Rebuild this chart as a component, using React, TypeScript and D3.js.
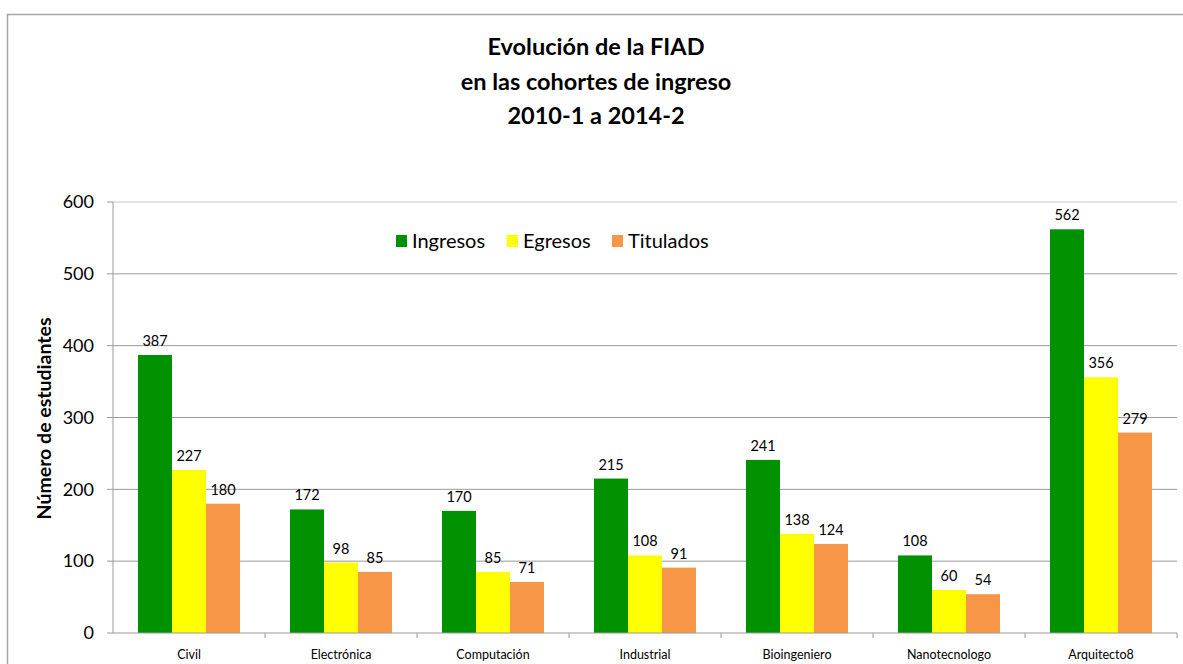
import React from 'react';
import * as d3 from 'd3';

const width = 1183;
const height = 664;

const categories = ['Civil', 'Electrónica', 'Computación', 'Industrial', 'Bioingeniero', 'Nanotecnologo', 'Arquitecto8'];
const seriesNames = ['Ingresos', 'Egresos', 'Titulados'];
const ingresos = [387, 172, 170, 215, 241, 108, 562];
const egresos = [227, 98, 85, 108, 138, 60, 356];
const titulados = [180, 85, 71, 91, 124, 54, 279];
const yTicks = [0, 100, 200, 300, 400, 500, 600];
const titleLines = ['Evolución de la FIAD', 'en las cohortes de ingreso', '2010-1 a 2014-2'];

const seriesValues = [ingresos, egresos, titulados];
const colors = ['#009100', '#ffff00', '#f79646'];

const plotLeft = 113;
const plotRight = 1177;
const plotTop = 202;
const plotBottom = 633;

const font = 'Lato, "Open Sans", sans-serif';

const x0 = d3.scaleBand().domain(categories).range([plotLeft, plotRight]).padding(0);
const x1 = d3.scaleBand().domain(seriesNames).range([0, x0.bandwidth()]).paddingInner(0).paddingOuter(0.735);
const y = d3.scaleLinear().domain([0, 600]).range([plotBottom, plotTop]);

const App = () => {
  return (
    <svg width={width} height={height} style={{ position: 'absolute', left: 0, top: 0 }}>
      <rect x={0} y={0} width={width} height={height} fill="white" />
      <rect x={7.5} y={14.5} width={width + 20} height={height + 20} fill="none" stroke="#a6a6a6" strokeWidth={1.5} />

      {titleLines.map((t, i) => (
        <text key={t} x={596} y={55 + i * 34.5} textAnchor="middle" fontFamily={font} fontWeight="bold" fontSize={23.5} fill="#000">
          {t}
        </text>
      ))}

      {/* gridlines and y ticks */}
      {yTicks.map(t => (
        <g key={t}>
          {t > 0 && <line x1={plotLeft} x2={plotRight} y1={y(t)} y2={y(t)} stroke={t === 600 ? '#c8c8c8' : '#9a9a9a'} strokeWidth={1} />}
          <line x1={plotLeft - 6} x2={plotLeft} y1={y(t)} y2={y(t)} stroke="#9a9a9a" />
          <text x={94} y={y(t)} dy="0.35em" textAnchor="end" fontFamily={font} fontSize={18} fill="#000">{t}</text>
        </g>
      ))}

      <text transform={`translate(51,${(plotTop + plotBottom) / 2 + 1}) rotate(-90)`} textAnchor="middle" fontFamily={font} fontWeight="bold" fontSize={19.5} fill="#000">
        Número de estudiantes
      </text>

      {/* bars */}
      {categories.map((c, ci) => (
        <g key={c} transform={`translate(${x0(c)},0)`}>
          {seriesNames.map((s, si) => {
            const v = seriesValues[si][ci];
            const bx = x1(s)!;
            return (
              <g key={s}>
                <rect x={bx} y={y(v)} width={x1.bandwidth()} height={plotBottom - y(v)} fill={colors[si]} />
                <text x={bx + x1.bandwidth() / 2} y={y(v) - 9} textAnchor="middle" fontFamily={font} fontSize={14.5} fill="#000">{v}</text>
              </g>
            );
          })}
        </g>
      ))}

      {/* axes */}
      <line x1={plotLeft} x2={plotLeft} y1={plotTop} y2={plotBottom} stroke="#9a9a9a" />
      <line x1={plotLeft} x2={plotRight} y1={plotBottom} y2={plotBottom} stroke="#9a9a9a" />
      {categories.map(c => (
        <line key={c} x1={x0(c)! + x0.bandwidth()} x2={x0(c)! + x0.bandwidth()} y1={plotBottom} y2={plotBottom + 5} stroke="#9a9a9a" />
      ))}
      {categories.map(c => (
        <text key={c} x={x0(c)! + x0.bandwidth() / 2} y={659} textAnchor="middle" fontFamily={font} fontSize={12.5} fill="#000">{c}</text>
      ))}

      {/* legend */}
      {seriesNames.map((s, i) => {
        const lx = [396, 507, 612][i];
        return (
          <g key={s}>
            <rect x={lx} y={235} width={11} height={12} fill={colors[i]} />
            <text x={lx + 16} y={241} dy="0.35em" fontFamily={font} fontSize={20} fill="#000">{s}</text>
          </g>
        );
      })}
    </svg>
  );
};

export default App;
